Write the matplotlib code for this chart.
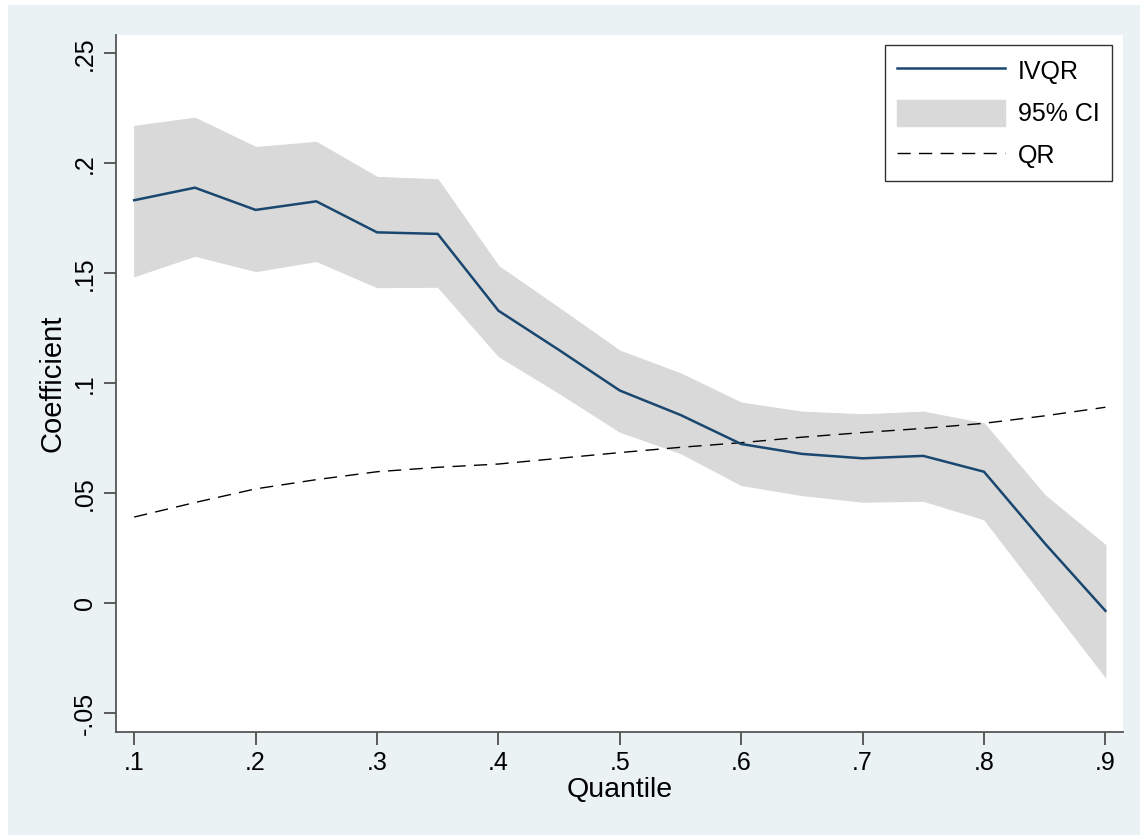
import matplotlib
matplotlib.use("Agg")
import matplotlib.pyplot as plt
from matplotlib.patches import Rectangle, Patch
from matplotlib.lines import Line2D

quantiles = [0.10, 0.15, 0.20, 0.25, 0.30, 0.35, 0.40, 0.45, 0.50, 0.55,
             0.60, 0.65, 0.70, 0.75, 0.80, 0.85, 0.90]
ivqr = [0.1832, 0.1889, 0.1788, 0.1827, 0.1686, 0.1679, 0.1330, 0.1151, 0.0967, 0.0856,
        0.0724, 0.0679, 0.0659, 0.0670, 0.0598, 0.0273, -0.0034]
ci_upper = [0.2170, 0.2207, 0.2074, 0.2097, 0.1938, 0.1927, 0.1533, 0.1342, 0.1148, 0.1045,
            0.0912, 0.0871, 0.0859, 0.0871, 0.0818, 0.0492, 0.0265]
ci_lower = [0.1487, 0.1580, 0.1510, 0.1556, 0.1437, 0.1439, 0.1124, 0.0956, 0.0780, 0.0683,
            0.0538, 0.0492, 0.0462, 0.0466, 0.0382, 0.0023, -0.0334]
qr = [0.0392, 0.0458, 0.0520, 0.0562, 0.0598, 0.0618, 0.0633, 0.0659, 0.0685, 0.0709,
      0.0730, 0.0755, 0.0776, 0.0795, 0.0818, 0.0852, 0.0891]

xticks = [0.1, 0.2, 0.3, 0.4, 0.5, 0.6, 0.7, 0.8, 0.9]
xticklabels = [".1", ".2", ".3", ".4", ".5", ".6", ".7", ".8", ".9"]
yticks = [-0.05, 0.0, 0.05, 0.10, 0.15, 0.20, 0.25]
yticklabels = ["-.05", "0", ".05", ".1", ".15", ".2", ".25"]

plt.rcParams['font.family'] = ['Liberation Sans', 'DejaVu Sans']

W, H = 1140, 835
fig = plt.figure(figsize=(W / 100, H / 100), dpi=100, facecolor="white")
bg = Rectangle((8 / W, 0), 1 - 8 / W, 1 - 5 / H, transform=fig.transFigure,
               facecolor="#eaf2f3", edgecolor="none", zorder=-10)
fig.patches.append(bg)

ax = fig.add_axes([116 / W, 1 - 732 / H, (1123 - 116) / W, (732 - 35) / H])
ax.set_facecolor("white")

navy = "#1a476f"
gray = "#d9d9d9"
qr_dash = (9.5, 6)

ax.fill_between(quantiles, ci_lower, ci_upper, facecolor=gray, edgecolor=gray, linewidth=0.8, zorder=1)
ax.plot(quantiles, ivqr, color=navy, linewidth=1.8, zorder=3)
ax.plot(quantiles, qr, color="black", linewidth=1.0, dashes=qr_dash, zorder=2)

ax.set_xlim(0.085, 0.9145)
ax.set_ylim(-0.0585, 0.2583)

ax.set_xticks(xticks)
ax.set_xticklabels(xticklabels)
ax.set_yticks(yticks)
ax.set_yticklabels(yticklabels, rotation=90, va="center")

for s in ["top", "right"]:
    ax.spines[s].set_visible(False)
for s in ["left", "bottom"]:
    ax.spines[s].set_color("#555555")
    ax.spines[s].set_linewidth(1.3)

ax.tick_params(axis="both", direction="out", length=9, width=1.1, color="#333333",
               labelsize=18, labelcolor="black", pad=5)

ax.set_xlabel("Quantile", fontsize=20.5, labelpad=1)
ax.set_ylabel("Coefficient", fontsize=21, labelpad=4)

handles = [Line2D([], [], color=navy, linewidth=1.8),
           Patch(facecolor=gray, edgecolor=gray),
           Line2D([], [], color="black", linewidth=1.0, dashes=qr_dash)]
leg = ax.legend(handles, ["IVQR", "95% CI", "QR"], loc="upper right",
                bbox_to_anchor=(1112 / W, 1 - 45 / H), bbox_transform=fig.transFigure,
                fontsize=18, frameon=True, fancybox=False, handlelength=4.3,
                handleheight=1.25, labelspacing=0.62, borderpad=0.5, handletextpad=0.52,
                borderaxespad=0)
leg.get_frame().set_edgecolor("black")
leg.get_frame().set_linewidth(1.0)

fig.savefig("out.png", dpi=100, facecolor=fig.get_facecolor())
